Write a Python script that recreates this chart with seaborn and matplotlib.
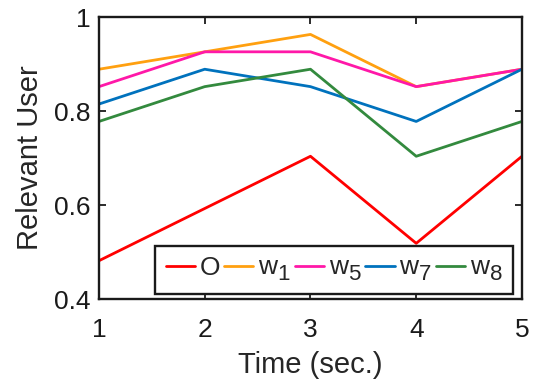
import matplotlib
matplotlib.use("Agg")
import matplotlib.pyplot as plt
import seaborn as sns
import pandas as pd
try:
    import matplotlib._mathtext as _mt
    _mt.SHRINK_FACTOR = 0.85
    _mt.FontConstantsBase.sub1 = 0.45
except Exception:
    pass

time = [1, 2, 3, 4, 5]
series_names = ["O", "w$_1$", "w$_5$", "w$_7$", "w$_8$"]
vals_O = [13/27, 16/27, 19/27, 14/27, 19/27]
vals_w1 = [24/27, 25/27, 26/27, 23/27, 24/27]
vals_w5 = [23/27, 25/27, 25/27, 23/27, 24/27]
vals_w7 = [22/27, 24/27, 23/27, 21/27, 24/27]
vals_w8 = [21/27, 23/27, 24/27, 19/27, 21/27]
colors = ["#FF0000", "#FFA010", "#FF18A8", "#0072BD", "#338A3E"]
xticks = [1, 2, 3, 4, 5]
yticks = [0.4, 0.6, 0.8, 1.0]
ytick_labels = ["0.4", "0.6", "0.8", "1"]

sns.set_theme(style="white")
plt.rcParams["font.family"] = ["Liberation Sans", "DejaVu Sans"]
plt.rcParams["mathtext.fontset"] = "custom"
plt.rcParams["mathtext.rm"] = "Liberation Sans"
plt.rcParams["mathtext.it"] = "Liberation Sans"

rows = []
for name, vals in zip(series_names, [vals_O, vals_w1, vals_w5, vals_w7, vals_w8]):
    for t, v in zip(time, vals):
        rows.append({"Time": t, "Value": v, "Series": name})
df = pd.DataFrame(rows)

fig = plt.figure(figsize=(5.4, 3.9), dpi=100)
ax = fig.add_axes([0.1833, 0.2333, 0.7833, 0.7231])
sns.lineplot(data=df, x="Time", y="Value", hue="Series", hue_order=series_names,
             palette=colors, linewidth=2.0, ax=ax, legend=True)

ax.set_xlim(1, 5)
ax.set_ylim(0.4, 1.0)
ax.set_xticks(xticks)
ax.set_xticklabels([str(t) for t in xticks])
ax.set_yticks(yticks)
ax.set_yticklabels(ytick_labels)
ax.tick_params(direction="in", length=5, width=1.3, colors="#1a1a1a",
               labelsize=19, top=True, right=True, bottom=True, left=True)
ax.tick_params(axis="x", pad=14)
ax.tick_params(axis="y", pad=6)
for sp in ax.spines.values():
    sp.set_visible(True)
    sp.set_color("#1a1a1a")
    sp.set_linewidth(1.7)
ax.set_xlabel("Time (sec.)", fontsize=21, color="#262626", labelpad=6)
ax.set_ylabel("Relevant User", fontsize=21, color="#262626", labelpad=7)

handles, labels = ax.get_legend_handles_labels()
leg = ax.legend(handles, labels, loc="lower right", ncol=5, fontsize=19,
                handlelength=1.1, handletextpad=0.18, columnspacing=0.15,
                borderpad=0.4, borderaxespad=0.0, frameon=True, fancybox=False,
                bbox_to_anchor=(0.979, 0.018))
leg.get_frame().set_edgecolor("#1a1a1a")
leg.get_frame().set_linewidth(1.7)
leg.get_frame().set_alpha(1.0)

fig.savefig("out.png", dpi=100)
